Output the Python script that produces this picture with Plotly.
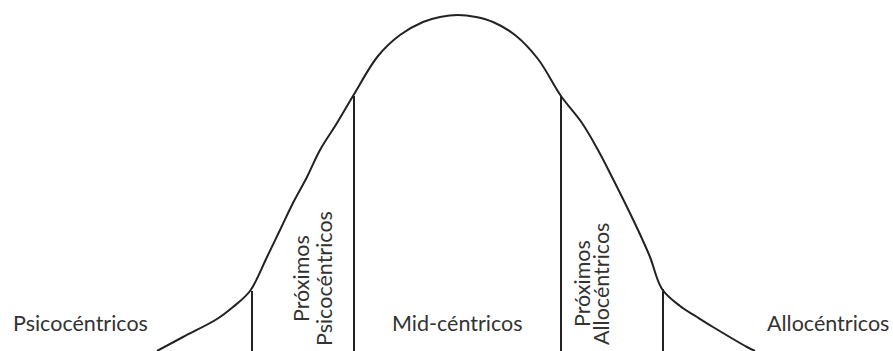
import plotly.graph_objects as go

# bell curve: position and height above the bottom edge
curve_x = [157, 183, 217, 233, 250, 267, 280, 293, 307, 320, 337, 353, 378, 400, 423, 440, 458,
           476, 493, 515, 538, 561, 582, 598, 612, 625, 638, 650, 662, 680, 697, 713, 747, 755]
curve_h = [0, 14, 32, 44, 60, 94, 121, 148, 174, 201, 228, 255, 295, 316, 329, 334, 336,
           334, 329, 316, 292, 255, 228, 201, 174, 148, 121, 94, 62, 45, 34, 24, 4, 0]

# segment dividers and where they meet the curve
divider_x = [252, 354, 561, 663]
divider_top = [60, 255, 255, 62]

# segment labels (the rotated ones one line per entry)
labels = ["Psicocéntricos", "Próximos", "Psicocéntricos", "Mid-céntricos",
          "Próximos", "Allocéntricos", "Allocéntricos"]
label_x = [80, 301, 324, 457, 582, 601, 828]
label_y = [28, 72, 72, 28, 67, 67, 28]
label_angle = [0, -90, -90, 0, -90, -90, 0]

ink = "#222222"

fig = go.Figure()
fig.add_trace(go.Scatter(x=curve_x, y=curve_h, mode="lines",
                         line=dict(color=ink, width=2, shape="spline", smoothing=1.0),
                         hoverinfo="skip"))
for x, top in zip(divider_x, divider_top):
    fig.add_trace(go.Scatter(x=[x, x], y=[0, top], mode="lines",
                             line=dict(color=ink, width=2), hoverinfo="skip"))

for text, x, y, a in zip(labels, label_x, label_y, label_angle):
    fig.add_annotation(x=x, y=y, text=text, showarrow=False, textangle=a,
                       font=dict(family="Lato", size=21.5, color="#333333"))

fig.update_xaxes(visible=False, range=[0, 893])
fig.update_yaxes(visible=False, range=[0, 351])
fig.update_layout(width=893, height=351, margin=dict(l=0, r=0, t=0, b=0),
                  showlegend=False, plot_bgcolor="white", paper_bgcolor="white")
# page body margin would push the figure 8px down/right
fig.write_html("out.html", config={"displayModeBar": False},
               post_script="document.body.style.margin='0';")
